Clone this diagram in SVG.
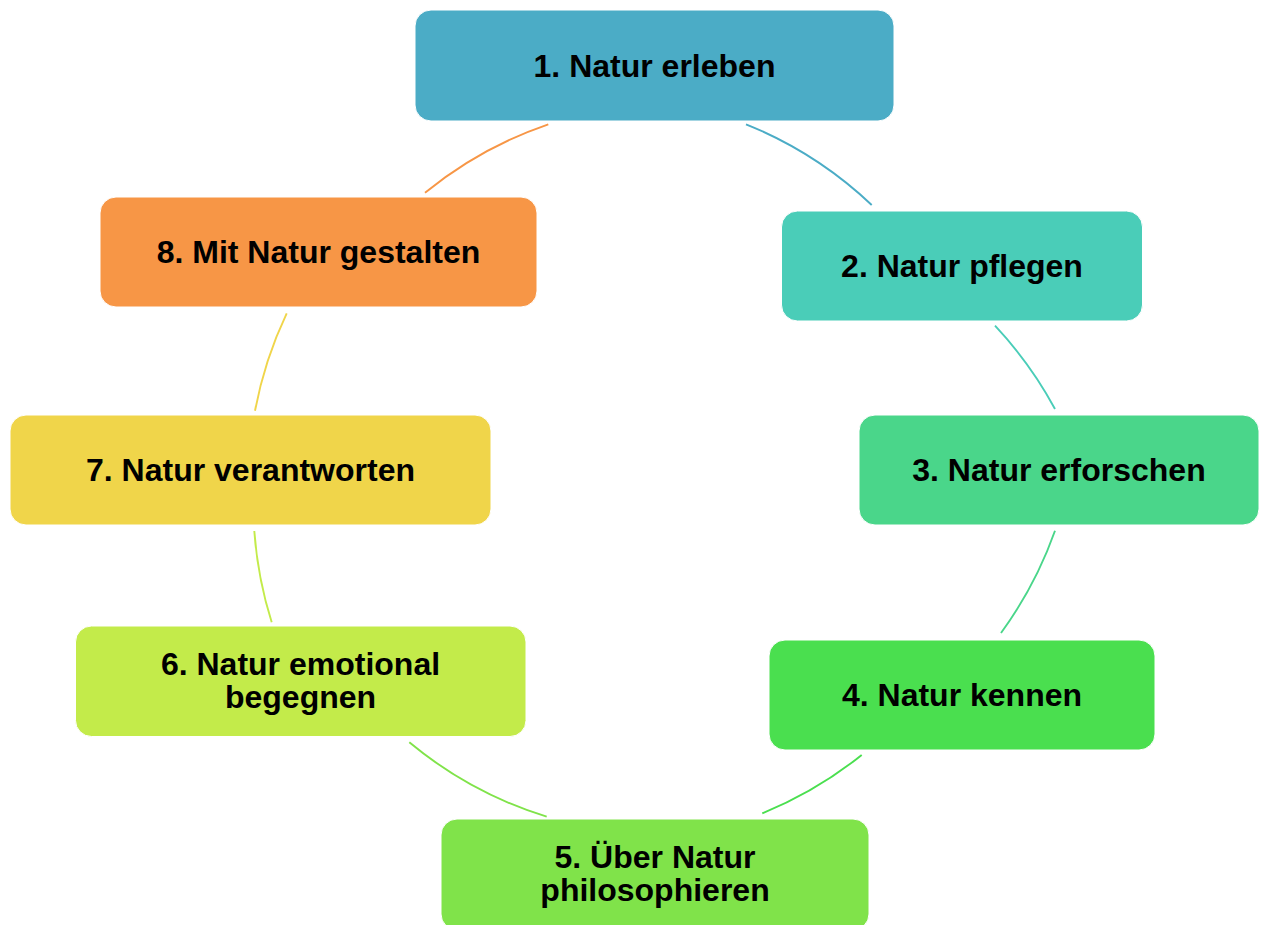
<svg xmlns="http://www.w3.org/2000/svg" width="1261" height="925" viewBox="0 0 1261 925">
<style>
.box{stroke:#ffffff;stroke-width:1}
.t{font-family:"Liberation Sans",Arial,sans-serif;font-weight:bold;font-size:32px;fill:#000;text-anchor:middle}
.c{fill:none;stroke-width:1.9}
</style>
<rect width="1261" height="925" fill="#ffffff"/>
<g id="connectors">
<path class="c" stroke="#4BACC6" d="M746,124.3 A400,400 0 0 1 871.7,205"/>
<path class="c" stroke="#4ACDB8" d="M995,325.7 A400,400 0 0 1 1055,409"/>
<path class="c" stroke="#4AD68A" d="M1055,530.7 A400,400 0 0 1 1001,633"/>
<path class="c" stroke="#4ADF4F" d="M861.7,755 A400,400 0 0 1 762.3,813.3"/>
<path class="c" stroke="#80E34A" d="M546.7,816.7 A400,400 0 0 1 409.3,742.3"/>
<path class="c" stroke="#C3EB4A" d="M271.7,622.3 A400,400 0 0 1 254.3,531"/>
<path class="c" stroke="#F0D54A" d="M255,410.7 A400,400 0 0 1 286.7,313.3"/>
<path class="c" stroke="#F79646" d="M425,192.7 A400,400 0 0 1 548.3,124.3"/>
</g>
<g id="node1"><rect class="box" x="415" y="10" width="479" height="111" rx="16" fill="#4BACC6"/><text class="t" x="654.5" y="76.5">1. Natur erleben</text></g>
<g id="node2"><rect class="box" x="781.5" y="211" width="361" height="110" rx="16" fill="#4ACDB8"/><text class="t" x="962" y="277">2. Natur pflegen</text></g>
<g id="node3"><rect class="box" x="859" y="415" width="400" height="110" rx="16" fill="#4AD68A"/><text class="t" x="1059" y="481">3. Natur erforschen</text></g>
<g id="node4"><rect class="box" x="769" y="640" width="386" height="110" rx="16" fill="#4ADF4F"/><text class="t" x="962" y="706">4. Natur kennen</text></g>
<g id="node5"><rect class="box" x="441" y="819" width="428" height="111" rx="16" fill="#80E34A"/><text class="t" x="655" y="867.5">5. Über Natur</text><text class="t" x="655" y="900.5">philosophieren</text></g>
<g id="node6"><rect class="box" x="75.5" y="626" width="450.5" height="110.5" rx="16" fill="#C3EB4A"/><text class="t" x="300.5" y="674.5">6. Natur emotional</text><text class="t" x="300.5" y="707.5">begegnen</text></g>
<g id="node7"><rect class="box" x="10" y="415" width="481" height="110" rx="16" fill="#F0D54A"/><text class="t" x="250.5" y="481">7. Natur verantworten</text></g>
<g id="node8"><rect class="box" x="100" y="197" width="437" height="110" rx="16" fill="#F79646"/><text class="t" x="318.5" y="263">8. Mit Natur gestalten</text></g>
</svg>
